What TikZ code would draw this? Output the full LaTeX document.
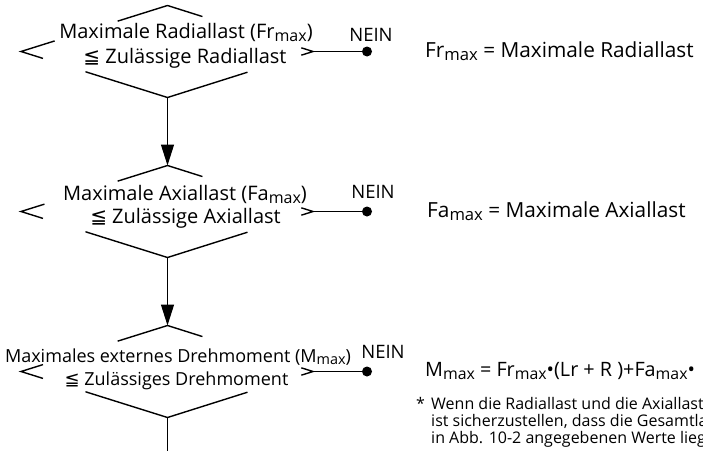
\documentclass[tikz,border=0pt]{standalone}
\usepackage{fontspec}
\usepackage{graphicx}
\setmainfont{Open Sans}
\newfontfamily\symf{DejaVu Sans}
\usetikzlibrary{arrows.meta,calc}
\newcommand\sbm[1]{\raisebox{-0.3ex}{\scalebox{0.8}{#1}}}
\newcommand\leqq{{\symf ≦}}
\newcommand\dia[3]{%
  \coordinate (#1T) at (167.5,#2-46);
  \coordinate (#1B) at (167.5,#2+46);
  \coordinate (#1L) at (21,#2);
  \coordinate (#1R) at (313,#2);
  \draw[edge] ($(#1T)!0.34!(#1L)$) -- (#1T) -- ($(#1T)!0.24!(#1R)$);
  \draw[edge] ($(#1L)!#3!(#1T)$) -- (#1L) -- ($(#1L)!0.15!(#1B)$);
  \draw[edge] ($(#1R)!0.08!(#1T)$) -- (#1R) -- ($(#1R)!0.08!(#1B)$);
  \draw[edge] ($(#1B)!0.56!(#1L)$) -- (#1B) -- ($(#1B)!0.55!(#1R)$);
}
\begin{document}
\begin{tikzpicture}[x=1pt,y=-1pt,
  edge/.style={line width=1.4pt,line join=miter},
  dtext/.style={font=\fontsize{20}{24}\selectfont,anchor=base,inner sep=0pt},
  dtextsm/.style={font=\fontsize{18}{22}\selectfont,anchor=base,inner sep=0pt},
  nein/.style={font=\fontsize{18.5}{22}\selectfont,anchor=base,inner sep=0pt},
  side/.style={font=\fontsize{20.8}{24}\selectfont,anchor=base west,inner sep=0pt},
  sidesm/.style={font=\fontsize{19.8}{24}\selectfont,anchor=base west,inner sep=0pt},
  note/.style={font=\fontsize{16}{17}\selectfont,anchor=base west,inner sep=0pt},
  dot/.style={circle,fill,inner sep=0pt,minimum size=10pt},
  flow/.style={line width=1.4pt,-{Triangle[length=21pt,width=13pt]}},
  link/.style={line width=1.2pt}]
\fill[white] (0,0) rectangle (703,450);
\useasboundingbox (0,0) rectangle (703,450);
\clip (0,0) rectangle (703,450);

% decisions
\dia{a}{51.5}{0.23}
\dia{b}{211.5}{0.16}
\dia{c}{371.5}{0.15}

\node[dtext] (a1) at (186,38) {Maximale Radiallast (Fr\sbm{max})};
\node[dtext] (a2) at (185,63) {\leqq\ Zulässige Radiallast};
\node[dtext] (b1) at (185,200) {Maximale Axiallast (Fa\sbm{max})};
\node[dtext] (b2) at (185.5,223) {\leqq\ Zulässige Axiallast};
\node[dtextsm] (c1) at (178,362) {Maximales externes Drehmoment (M\sbm{max})};
\node[dtextsm] (c2) at (176.5,385) {\leqq\ Zulässiges Drehmoment};

% NEIN exits
\node[dot] (ad) at (367,51.5) {};
\node[dot] (bd) at (367,211.5) {};
\node[dot] (cd) at (367,371.5) {};
\draw[link] (aR) -- (ad);
\draw[link] (bR) -- (bd);
\draw[link] (cR) -- (cd);
\node[nein] (an) at (371,41) {NEIN};
\node[nein] (bn) at (373,198) {NEIN};
\node[nein] (cn) at (383,358) {NEIN};

% flow
\coordinate (end) at (167.5,455);
\draw[flow] (aB) -- (bT);
\draw[flow] (bB) -- (cT);
\draw[edge] (cB) -- (end);

% legend
\node[side] (l1) at (425,57) {Fr\sbm{max} = Maximale Radiallast};
\node[side] (l2) at (427,217) {Fa\sbm{max} = Maximale Axiallast};
\node[sidesm] (l3) at (425,376) {M\sbm{max} = Fr\sbm{max}•(Lr + R )+Fa\sbm{max}•};
\node[note] (st) at (416,409) {*};
\node[note] (n1) at (431,409) {Wenn die Radiallast und die Axiallast};
\node[note] (n2) at (431,426) {ist sicherzustellen, dass die Gesamtlast};
\node[note] (n3) at (431,443) {in Abb. 10-2 angegebenen Werte liegt};
\end{tikzpicture}
\end{document}
